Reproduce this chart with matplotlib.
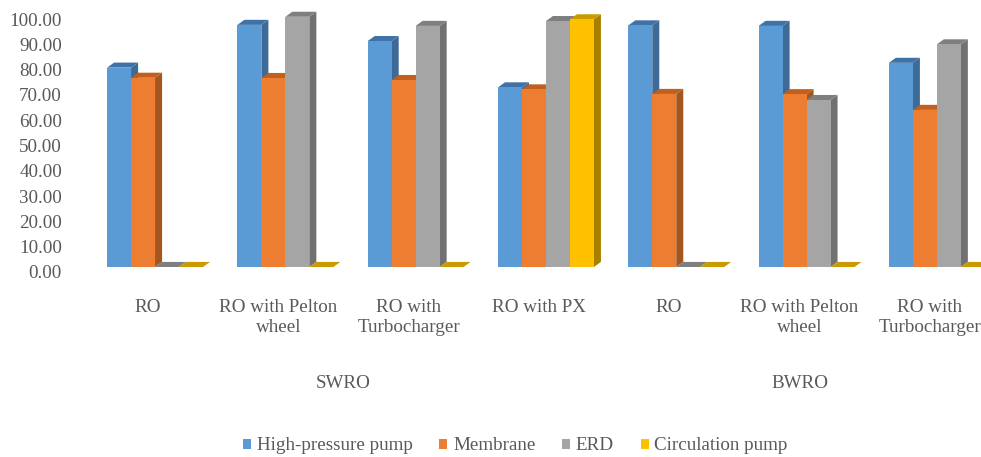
import matplotlib.pyplot as plt
import matplotlib.transforms as mtransforms
from matplotlib.patches import Patch
import numpy as np

plt.rcParams['font.family'] = ['Liberation Serif', 'DejaVu Serif']

categories = ['RO', 'RO with Pelton\nwheel', 'RO with\nTurbocharger', 'RO with PX',
              'RO', 'RO with Pelton\nwheel', 'RO with\nTurbocharger']
groups = ['SWRO', 'BWRO']
group_pos = [1.5, 5.0]

series = ['High-pressure pump', 'Membrane', 'ERD', 'Circulation pump']
high_pressure = [78.8, 95.7, 89.3, 71.0, 95.5, 95.3, 80.7]
membrane = [74.8, 74.7, 73.9, 70.2, 68.4, 68.3, 62.1]
erd = [0.0, 98.9, 95.3, 97.2, 0.0, 66.0, 88.0]
circulation = [0.0, 0.0, 0.0, 97.9, 0.0, 0.0, 0.0]
values = [high_pressure, membrane, erd, circulation]

front = ['#5b9bd5', '#ed7d31', '#a5a5a5', '#ffc000']
side = ['#3d6a96', '#a4561f', '#717171', '#a97f00']
top = ['#3f72a6', '#c05f1e', '#7f7f7f', '#c99b00']
text_col = '#595959'

fig = plt.figure(figsize=(9.81, 4.57), dpi=100)
ax = fig.add_axes([70 / 981, 1 - 267 / 457, 911 / 981, 253 / 457])

w = 0.184      # bar width in category units
shift = 0.054  # bars sit slightly right of the category label
dx, dy = 0.054, 2.0  # fake depth of the 3D columns

x = np.arange(len(categories))
for k, vals in enumerate(values):
    lefts = x + (k - 2) * w + shift
    z = 2 + k
    for xl, h in zip(lefts, vals):
        ax.fill([xl + w, xl + w + dx, xl + w + dx, xl + w],
                [0, dy, h + dy, h], color=side[k], lw=0, zorder=z, clip_on=False)
        ax.fill([xl, xl + dx, xl + w + dx, xl + w],
                [h, h + dy, h + dy, h], color=top[k], lw=0, zorder=z, clip_on=False)
    ax.bar(lefts, vals, width=w, align='edge', color=front[k], lw=0,
           zorder=z, clip_on=False)

ax.set_xlim((70 - 148) / 130.3, (981 - 148) / 130.3)
ax.set_ylim(0, 100)
ax.set_yticks(np.arange(0, 101, 10))
ax.set_yticklabels([f'{v:.2f}' for v in np.arange(0, 101, 10)])
ax.set_xticks(x)
ax.set_xticklabels(categories, linespacing=1.25)
ax.tick_params(axis='y', length=0, pad=5.8, labelsize=13.7, labelcolor=text_col)
ax.tick_params(axis='x', length=0, pad=23, labelsize=13.7, labelcolor=text_col)
for spine in ax.spines.values():
    spine.set_visible(False)

# y labels sit a little below the column floor
off = mtransforms.ScaledTranslation(0, -0.05, fig.dpi_scale_trans)
for lab in ax.get_yticklabels():
    lab.set_transform(lab.get_transform() + off)

trans = mtransforms.blended_transform_factory(ax.transData, fig.transFigure)
for g, gx in zip(groups, group_pos):
    ax.text(gx, 1 - 383 / 457, g, transform=trans, ha='center', va='center',
            fontsize=13.7, color=text_col)

handles = [Patch(facecolor=c, lw=0) for c in front]
fig.legend(handles, series, loc='center', bbox_to_anchor=(515.5 / 981, 1 - 446 / 457),
           ncol=4, frameon=False, fontsize=13.7, labelcolor=text_col,
           handlelength=0.42, handleheight=0.42, handletextpad=0.3,
           columnspacing=1.4)

fig.savefig('out.png', dpi=100)
